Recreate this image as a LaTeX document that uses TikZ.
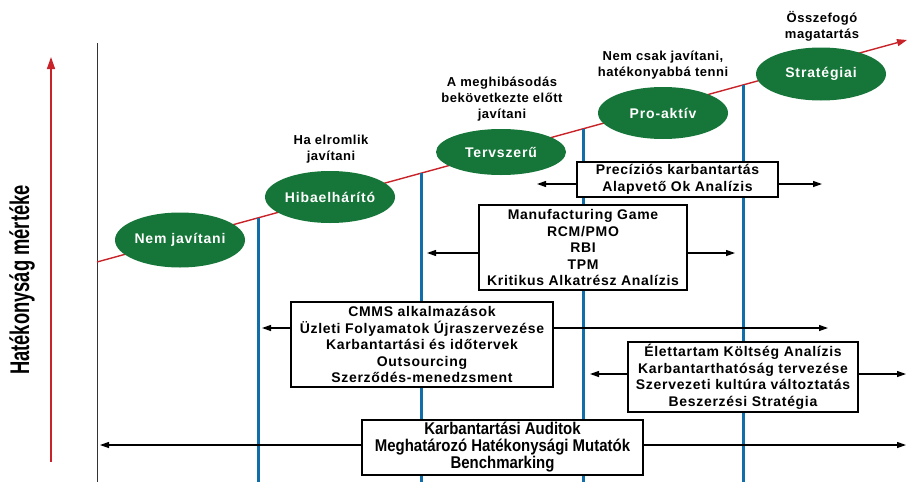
\documentclass[tikz,border=0pt]{standalone}
\usepackage{fontspec}
\setmainfont{Liberation Sans}
\newfontfamily\narrowfont[FakeStretch=0.68]{Liberation Sans}
\newfontfamily\auditfont[FakeStretch=0.88]{Liberation Sans}
\newfontfamily\boxfont[LetterSpace=5]{Liberation Sans}
\newfontfamily\ovalfont[LetterSpace=6]{Liberation Sans}
\newfontfamily\notefont[LetterSpace=4]{Liberation Sans}
\usetikzlibrary{arrows.meta,shapes.geometric}
\definecolor{ovalgreen}{RGB}{22,117,56}
\definecolor{trendred}{RGB}{200,35,40}
\definecolor{stageblue}{RGB}{18,110,168}
\tikzset{
  oval/.style={ellipse, fill=ovalgreen, text=white, minimum width=130pt, minimum height=52pt,
    inner sep=0pt, font=\ovalfont\bfseries\fontsize{14}{16}\selectfont},
  note/.style={align=center, inner sep=0pt, font=\notefont\bfseries\fontsize{13}{16}\selectfont},
  toolbox/.style={draw=black, line width=1.5pt, fill=white, align=center, inner sep=0pt,
    font=\boxfont\bfseries\fontsize{14}{16.5}\selectfont},
  stage/.style={draw=stageblue, line width=3pt},
  reach/.style={draw=black, line width=1.2pt, -{Triangle[length=9pt,width=6pt]}},
}
\begin{document}
\begin{tikzpicture}[x=1pt,y=-1pt]
\useasboundingbox (0,0) rectangle (908,482);

% vertical axis and its label
\coordinate (axtop) at (97,43);
\coordinate (axbot) at (97,482);
\draw[black!80, line width=0.8pt] (axtop) -- (axbot);

\coordinate (ya) at (51,462);
\coordinate (yb) at (51,57);
\draw[trendred, line width=1.5pt, -{Triangle[length=12pt,width=8pt]}] (ya) -- (yb);
\node[rotate=90, inner sep=0pt, font=\narrowfont\bfseries\fontsize{27}{30}\selectfont] (ylab) at (22,280) {Hatékonyság mértéke};

% rising trend line
\coordinate (t0) at (97,262);
\coordinate (t1) at (907,40);
\draw[trendred, line width=1.4pt, -{Triangle[length=10pt,width=7pt]}] (t0) -- (t1);

% stage boundaries
\coordinate (u1) at (258,217.9);  \coordinate (d1) at (258,482);
\coordinate (u2) at (421,173.2);  \coordinate (d2) at (421,482);
\coordinate (u3) at (583,128.8);  \coordinate (d3) at (583,482);
\coordinate (u4) at (743,84.9);   \coordinate (d4) at (743,482);
\draw[stage] (u1) -- (d1);
\draw[stage] (u2) -- (d2);
\draw[stage] (u3) -- (d3);
\draw[stage] (u4) -- (d4);

% method boxes
\node[toolbox, minimum width=201pt, minimum height=35pt] (b1) at (677.5,179.5)
  {Precíziós karbantartás\\Alapvető Ok Analízis};
\node[toolbox, minimum width=208pt, minimum height=85pt] (b2) at (583,247.5)
  {Manufacturing Game\\RCM/PMO\\RBI\\TPM\\Kritikus Alkatrész Analízis};
\node[toolbox, minimum width=262pt, minimum height=85pt] (b3) at (422,344.5)
  {CMMS alkalmazások\\Üzleti Folyamatok Újraszervezése\\Karbantartási és időtervek\\Outsourcing\\Szerződés-menedzsment};
\node[toolbox, minimum width=230pt, minimum height=70pt] (b4) at (743,377)
  {Élettartam Költség Analízis\\Karbantarthatóság tervezése\\Szervezeti kultúra változtatás\\Beszerzési Stratégia};
\node[toolbox, minimum width=281pt, minimum height=55pt, font=\auditfont\bfseries\fontsize{17}{17}\selectfont] (b5) at (502.5,447.5)
  {Karbantartási Auditok\\Meghatározó Hatékonysági Mutatók\\Benchmarking};

% reach of each group of methods
\coordinate (b1l) at (537,184);  \coordinate (b1r) at (822,184);
\coordinate (b2l) at (427,253);  \coordinate (b2r) at (735,253);
\coordinate (b3l) at (262,328);  \coordinate (b3r) at (828,328);
\coordinate (b4l) at (590,374);  \coordinate (b4r) at (906,374);
\coordinate (b5l) at (100,445);  \coordinate (b5r) at (906,445);
\draw[reach] (b1.west |- b1l) -- (b1l);
\draw[reach] (b1.east |- b1r) -- (b1r);
\draw[reach] (b2.west |- b2l) -- (b2l);
\draw[reach] (b2.east |- b2r) -- (b2r);
\draw[reach] (b3.west |- b3l) -- (b3l);
\draw[reach] (b3.east |- b3r) -- (b3r);
\draw[reach] (b4.west |- b4l) -- (b4l);
\draw[reach] (b4.east |- b4r) -- (b4r);
\draw[reach] (b5.west |- b5l) -- (b5l);
\draw[reach] (b5.east |- b5r) -- (b5r);

% maintenance stages
\node[oval, minimum height=55pt] (s1) at (180,240) {Nem javítani};
\node[oval] (s2) at (330,197) {Hibaelhárító};
\node[oval, minimum height=46pt] (s3) at (501,152) {Tervszerű};
\node[oval] (s4) at (663,113) {Pro-aktív};
\node[oval, minimum height=53pt] (s5) at (821,74) {Stratégiai};

% stage descriptions
\node[note] (h2) at (331,149) {Ha elromlik\\javítani};
\node[note] (h3) at (502,99) {A meghibásodás\\bekövetkezte előtt\\javítani};
\node[note] (h4) at (663,65) {Nem csak javítani,\\hatékonyabbá tenni};
\node[note] (h5) at (822,26) {Összefogó\\magatartás};
\end{tikzpicture}
\end{document}
